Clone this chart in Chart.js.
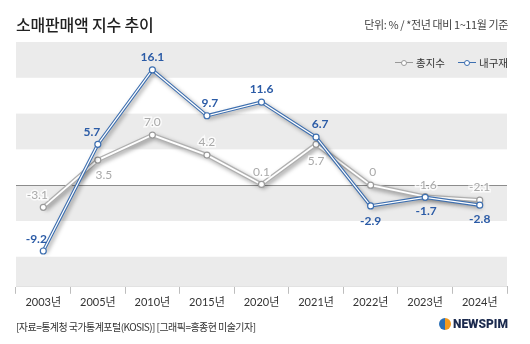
<!DOCTYPE html>
<html><head><meta charset="utf-8">
<script src="https://cdn.jsdelivr.net/npm/chart.js@4"></script>
<style>
html,body{margin:0;padding:0;background:#fff;}
#wrap{position:relative;width:530px;height:344px;overflow:hidden;font-family:"Noto Sans CJK KR",sans-serif;}
canvas{position:absolute;left:0;top:0;}
.t{position:absolute;white-space:nowrap;}
#title{left:16px;top:12px;font-size:16px;font-weight:500;color:#222;letter-spacing:-0.2px;}
#unit{right:22px;top:16px;font-size:11px;color:#444;letter-spacing:-0.4px;}
#src{left:16px;top:319px;font-size:10px;color:#333;letter-spacing:-0.55px;}
#logo{right:22px;top:317px;font-family:Roboto,"Noto Sans",sans-serif;font-weight:900;font-size:12px;color:#1b2a4e;display:flex;align-items:center;}
#logo i{display:inline-block;width:12px;height:12px;border-radius:50%;background:conic-gradient(#f39a1e 0 50%,#2a6fb6 50% 100%);margin-right:2px;}
#legend{right:22px;top:55px;font-size:10.5px;color:#333;display:flex;align-items:center;}
.sym{position:relative;display:inline-block;width:18px;height:10px;margin-right:3px;}
.sym:before{content:"";position:absolute;left:0;right:0;top:4.5px;height:1px;}
.sym:after{content:"";position:absolute;left:6px;top:2px;width:4px;height:4px;border-radius:50%;background:#fff;border:1px solid;}
.g:before{background:#999;} .g:after{border-color:#999;}
.b:before{background:#3d6fb0;} .b:after{border-color:#3d6fb0;}
</style></head>
<body><div id="wrap">
<canvas id="c" width="530" height="344"></canvas>
<div class="t" id="title">소매판매액 지수 추이</div>
<div class="t" id="unit">단위: % / *전년 대비 1~11월 기준</div>
<div class="t" id="legend"><span class="sym g"></span>총지수<span style="width:13px;display:inline-block"></span><span class="sym b"></span>내구재</div>
<div class="t" id="src">[자료=통계청 국가통계포털(KOSIS)] [그래픽=홍종현 미술기자]</div>
<div class="t" id="logo"><i></i>NEWSPIM</div>
</div>
<script>
const categories = ["2003년","2005년","2010년","2015년","2020년","2021년","2022년","2023년","2024년"];
const totalIndex = [-3.1, 3.5, 7.0, 4.2, 0.1, 5.7, 0, -1.6, -2.1];
const durables = [-9.2, 5.7, 16.1, 9.7, 11.6, 6.7, -2.9, -1.7, -2.8];
const totalLabels = ["-3.1","3.5","7.0","4.2","0.1","5.7","0","-1.6","-2.1"];
const durableLabels = ["-9.2","5.7","16.1","9.7","11.6","6.7","-2.9","-1.7","-2.8"];
// label placement (style only)
const totalPlace = [[-6,-12],[6,15],[0,-13],[0,-13],[0,-12],[0,17],[2,-13],[1,-11],[0,-13]];
const durablePlace = [[-7,-12],[-6,-12],[0,-13],[3,-13],[0,-13],[4,-13],[0,15],[1,14],[0,14]];

const GRAY = "#b0b0b0", BLUE = "#3d6fb0";

const bands = {
  id:"bands",
  beforeDatasetsDraw(chart){
    const {ctx, chartArea:a, scales:{y}} = chart;
    ctx.save();
    ctx.fillStyle = "#ebebeb";
    for (let v = -15; v < 20; v += 5) {
      if (((v/5)%2+2)%2 === 1) {
        const t = Math.max(y.getPixelForValue(v+5), a.top);
        const b = Math.min(y.getPixelForValue(v), a.bottom);
        if (b > t) ctx.fillRect(a.left, t, a.right-a.left, b-t);
      }
    }
    const z = Math.round(y.getPixelForValue(0)) + 0.5;
    ctx.strokeStyle = "#8c8c8c"; ctx.lineWidth = 1;
    ctx.beginPath(); ctx.moveTo(a.left, z); ctx.lineTo(a.right, z); ctx.stroke();
    ctx.restore();
  }
};
const shadow = {
  id:"shadow",
  beforeDatasetDraw(chart, args){
    if (chart.data.datasets[args.index].outer) {
      const ctx = chart.ctx;
      ctx.shadowColor = "rgba(0,0,0,0.35)"; ctx.shadowBlur = 4; ctx.shadowOffsetX = 2; ctx.shadowOffsetY = 2;
    }
  },
  afterDatasetDraw(chart){
    const ctx = chart.ctx;
    ctx.shadowColor = "rgba(0,0,0,0)"; ctx.shadowBlur = 0; ctx.shadowOffsetX = 0; ctx.shadowOffsetY = 0;
  }
};
const labels = {
  id:"labels",
  afterDatasetsDraw(chart){
    const ctx = chart.ctx;
    ctx.save();
    ctx.textAlign = "center"; ctx.textBaseline = "middle";
    const gm = chart.getDatasetMeta(2), bm = chart.getDatasetMeta(0);
    ctx.font = "12px Lato, 'Noto Sans CJK KR'";
    gm.data.forEach((p,i)=>{
      const x = p.x + totalPlace[i][0], yy = p.y + totalPlace[i][1];
      ctx.lineWidth = 3; ctx.strokeStyle = "rgba(255,255,255,0.8)"; ctx.strokeText(totalLabels[i], x, yy);
      ctx.fillStyle = "#a9a9a9"; ctx.fillText(totalLabels[i], x, yy);
    });
    ctx.font = "bold 12px Lato, 'Noto Sans CJK KR'";
    bm.data.forEach((p,i)=>{
      ctx.fillStyle = "#2b5ba6";
      ctx.fillText(durableLabels[i], p.x + durablePlace[i][0], p.y + durablePlace[i][1]);
    });
    ctx.restore();
  }
};

new Chart(document.getElementById("c"), {
  type:"line",
  data:{
    labels: categories,
    datasets:[
      {data: durables, borderColor:"#fff", borderWidth:1.2, pointRadius:3, pointBackgroundColor:"#fff", pointBorderColor:BLUE, pointBorderWidth:1.2, tension:0},
      {data: durables, borderColor:BLUE, borderWidth:3.4, pointRadius:0, outer:true, tension:0},
      {data: totalIndex, borderColor:"#fff", borderWidth:1.8, pointRadius:3, pointBackgroundColor:"#fff", pointBorderColor:"#9a9a9a", pointBorderWidth:1.2, tension:0},
      {data: totalIndex, borderColor:GRAY, borderWidth:4.4, pointRadius:0, outer:true, tension:0}
    ]
  },
  options:{
    responsive:false, animation:false, devicePixelRatio:1,
    layout:{padding:{left:16, right:23, top:42, bottom:33}},
    plugins:{legend:{display:false}, tooltip:{enabled:false}},
    scales:{
      y:{display:false, min:-14.2, max:20},
      x:{
        offset:true,
        grid:{offset:true, drawOnChartArea:false, tickLength:7, color:"#bdbdbd", lineWidth:1},
        border:{display:true, color:"#bdbdbd"},
        ticks:{color:"#333", padding:2, font:{family:"Lato, 'Noto Sans CJK KR'", size:11}}
      }
    }
  },
  plugins:[bands, shadow, labels]
});
</script>
</body></html>
